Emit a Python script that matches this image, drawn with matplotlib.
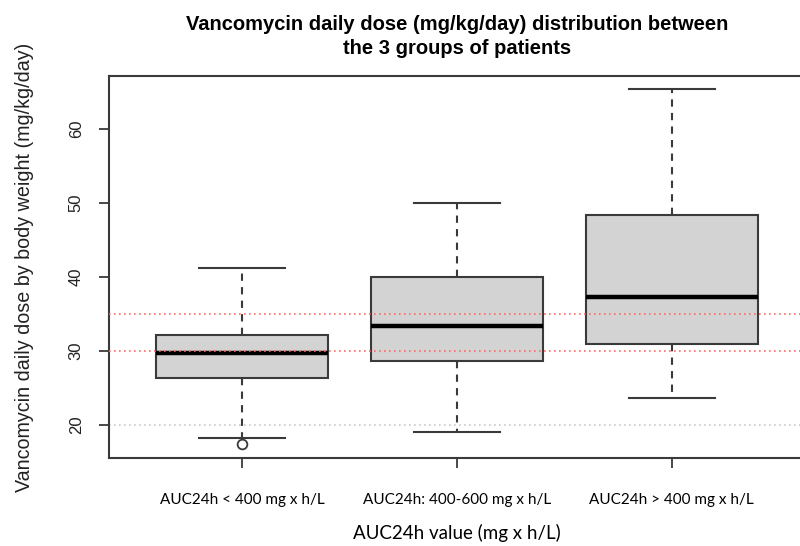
import matplotlib
matplotlib.use("Agg")
import matplotlib.pyplot as plt

groups = ["AUC24h < 400 mg x h/L", "AUC24h: 400-600 mg x h/L", "AUC24h > 400 mg x h/L"]
whislo = [18.3, 19.1, 23.6]
q1 = [26.4, 28.6, 30.9]
med = [29.7, 33.4, 37.3]
q3 = [32.2, 40.0, 48.4]
whishi = [41.2, 50.0, 65.3]
fliers = [[17.5], [], []]
yticks = [20, 30, 40, 50, 60]
ref_red = [30, 35]
ref_grey = [20]

fig = plt.figure(figsize=(8.0, 5.46), dpi=100)
ax = fig.add_axes([0.136, 0.161, 0.870, 0.700])

stats = []
for i in range(len(groups)):
    stats.append(dict(whislo=whislo[i], q1=q1[i], med=med[i], q3=q3[i],
                      whishi=whishi[i], fliers=fliers[i], label=groups[i]))

edge = "#3a3a3a"
for y in ref_grey:
    ax.axhline(y, color="#c8c8c8", lw=1.2, ls=(0, (1, 2)), zorder=1)
for y in ref_red:
    ax.axhline(y, color="#ff6a6a", lw=1.2, ls=(0, (1, 2)), zorder=3)

ax.bxp(stats, positions=[1, 2, 3], widths=0.8, patch_artist=True,
       showfliers=True,
       boxprops=dict(facecolor="#d3d3d3", edgecolor=edge, linewidth=1.5),
       medianprops=dict(color="black", linewidth=3.2),
       whiskerprops=dict(color=edge, linewidth=1.5, linestyle=(0, (3.5, 3))),
       capprops=dict(color=edge, linewidth=1.5),
       capwidths=0.4,
       flierprops=dict(marker="o", markerfacecolor="white", markeredgecolor=edge,
                       markersize=7, markeredgewidth=1.3),
       zorder=2)

ax.set_xlim(0.38, 3.62)
ax.set_ylim(15.55, 67.1)
ax.set_yticks(yticks)
ax.set_yticklabels([str(t) for t in yticks], rotation=90, va="center",
                   fontsize=12, color="#222222", family="Liberation Sans")
ax.set_xticks([1, 2, 3])
ax.set_xticklabels(groups, fontsize=11, family="Lato", color="black")
ax.tick_params(axis="both", direction="out", length=7, width=1.3, color=edge)
ax.tick_params(axis="y", pad=11)
ax.tick_params(axis="x", pad=18)
for s in ax.spines.values():
    s.set_color(edge)
    s.set_linewidth(1.5)

ax.set_title("Vancomycin daily dose (mg/kg/day) distribution between\nthe 3 groups of patients",
             fontsize=14.5, fontweight="bold", family="Liberation Sans", pad=16,
             linespacing=1.3)
ax.set_ylabel("Vancomycin daily dose by body weight (mg/kg/day)", fontsize=14.2,
              family="Liberation Sans", color="#222222", labelpad=25)
ax.set_xlabel("AUC24h value (mg x h/L)", fontsize=13.5, family="Lato", labelpad=12)

fig.savefig("out.png", dpi=100)
